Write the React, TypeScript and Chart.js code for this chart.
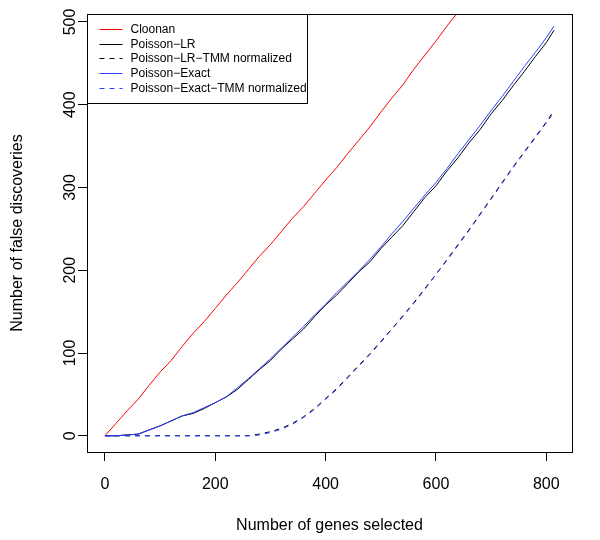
import React, { useEffect, useRef } from "react";
import { Chart, registerables } from "chart.js";

Chart.register(...registerables);

// ---- data ----
const cloonanGenes = [0, 20, 40, 60, 80, 100, 120, 140, 160, 180, 200, 220, 240, 260, 280, 300, 320, 340, 360, 380, 400, 420, 440, 460, 480, 500, 520, 540, 560, 580, 600, 620, 640, 660];
const cloonanFD = [0, 15, 30, 44, 61, 77, 91, 108, 124, 138, 154, 170, 185, 201, 217, 231, 247, 263, 277, 293, 309, 324, 341, 357, 373, 391, 408, 424, 443, 460, 477, 495, 512, 529];

const poissonGenes = [0, 20, 40, 60, 80, 100, 120, 140, 160, 180, 200, 220, 240, 260, 280, 300, 320, 340, 360, 380, 400, 420, 440, 460, 480, 500, 520, 540, 560, 580, 600, 620, 640, 660, 680, 700, 720, 740, 760, 780, 800, 814];
const poissonLR = [0, 0, 1, 2, 7, 12, 18, 24, 27, 33, 40, 47, 56, 68, 80, 91, 105, 117, 129, 144, 158, 170, 184, 198, 210, 226, 240, 254, 271, 288, 302, 320, 336, 354, 370, 389, 405, 423, 440, 458, 475, 490];
const poissonExact = [0, 0, 1, 2, 7, 12, 18, 24, 28, 34, 40, 47, 58, 69, 81, 93, 106, 119, 132, 146, 159, 173, 186, 199, 213, 228, 244, 259, 275, 291, 306, 323, 341, 358, 375, 393, 410, 428, 446, 463, 481, 495];

const tmmGenes = [0, 40, 80, 120, 160, 200, 240, 260, 280, 300, 320, 340, 360, 380, 400, 420, 440, 460, 480, 500, 520, 540, 560, 580, 600, 620, 640, 660, 680, 700, 720, 740, 760, 780, 800, 810];
const poissonLRTMM = [0, 0, 0, 0, 0, 0, 0, 0, 2, 5, 9, 15, 23, 33, 45, 57, 71, 85, 99, 114, 129, 145, 161, 178, 195, 213, 231, 249, 268, 287, 306, 325, 343, 361, 379, 389];
const poissonExactTMM = [0, 0, 0, 0, 0, 0, 0, 0, 1, 4, 8, 14, 22, 32, 44, 56, 70, 84, 98, 113, 129, 144, 160, 177, 195, 212, 230, 248, 267, 286, 305, 324, 342, 360, 378, 387];

const seriesLabels = [
  "Cloonan",
  "Poisson\u2212LR",
  "Poisson\u2212LR\u2212TMM normalized",
  "Poisson\u2212Exact",
  "Poisson\u2212Exact\u2212TMM normalized",
];

const xTicks = [0, 200, 400, 600, 800];
const yTicks = [0, 100, 200, 300, 400, 500];

const FONT = "'Liberation Sans', Arial, Helvetica, sans-serif";
const BLUE = "#2a3cff";

const toXY = (xs: number[], ys: number[]) => xs.map((x, i) => ({ x, y: ys[i] }));

const boxLegendPlugin = {
  id: "boxLegend",
  afterDraw(chart: any) {
    const { ctx, chartArea: a } = chart;
    ctx.save();
    ctx.strokeStyle = "#000";
    ctx.lineWidth = 1;
    ctx.setLineDash([]);
    const L = Math.round(a.left) + 0.5;
    const T = Math.round(a.top) + 0.5;
    const R = Math.round(a.right) + 0.5;
    const B = Math.round(a.bottom) + 0.5;
    ctx.strokeRect(L, T, R - L, B - T);

    // legend
    const lw = 220;
    const lh = 89;
    ctx.fillStyle = "#fff";
    ctx.fillRect(L, T, lw, lh);
    ctx.strokeStyle = "#000";
    ctx.strokeRect(L, T, lw, lh);
    ctx.font = `12px ${FONT}`;
    ctx.textBaseline = "middle";
    ctx.textAlign = "left";
    chart.data.datasets.forEach((ds: any, i: number) => {
      const y = Math.round(T + 14.5 + i * 14.7) + 0.5;
      ctx.beginPath();
      ctx.strokeStyle = ds.borderColor;
      ctx.lineWidth = 1;
      ctx.setLineDash(ds.borderDash || []);
      ctx.moveTo(L + 12, y);
      ctx.lineTo(L + 35, y);
      ctx.stroke();
      ctx.setLineDash([]);
      ctx.fillStyle = "#000";
      ctx.fillText(ds.label, L + 43, y);
    });
    ctx.restore();
  },
};

export default function App() {
  const ref = useRef<HTMLCanvasElement | null>(null);

  useEffect(() => {
    if (!ref.current) return;
    const chart = new Chart(ref.current, {
      type: "line",
      data: {
        datasets: [
          { label: seriesLabels[0], data: toXY(cloonanGenes, cloonanFD), borderColor: "#ff0000", order: 4 },
          { label: seriesLabels[1], data: toXY(poissonGenes, poissonLR), borderColor: "#000000", order: 3 },
          { label: seriesLabels[2], data: toXY(tmmGenes, poissonLRTMM), borderColor: "#000000", borderDash: [5, 5], order: 2 },
          { label: seriesLabels[3], data: toXY(poissonGenes, poissonExact), borderColor: BLUE, order: 1 },
          { label: seriesLabels[4], data: toXY(tmmGenes, poissonExactTMM), borderColor: BLUE, borderDash: [5, 5], order: 0 },
        ].map((d) => ({ ...d, borderWidth: 1, pointRadius: 0, tension: 0, fill: false })),
      },
      options: {
        responsive: false,
        animation: false,
        layout: { padding: { top: 14, right: 28, left: 0, bottom: 0 } },
        plugins: { legend: { display: false }, tooltip: { enabled: false } },
        scales: {
          x: {
            type: "linear",
            min: -32.6,
            max: 846.6,
            afterBuildTicks: (s: any) => {
              s.ticks = xTicks.map((v) => ({ value: v }));
            },
            afterFit: (s: any) => {
              s.height = 88;
            },
            grid: { display: true, drawOnChartArea: false, drawTicks: true, tickLength: 9, color: "#000", lineWidth: 1 },
            border: { display: true, color: "#000", width: 1 },
            ticks: {
              autoSkip: false,
              maxRotation: 0,
              minRotation: 0,
              padding: 14,
              color: "#000",
              font: { family: FONT, size: 16 },
              callback: (v: any) => String(v),
            },
            title: {
              display: true,
              text: "Number of genes selected",
              color: "#000",
              font: { family: FONT, size: 16 },
              padding: { top: 0, bottom: 5 },
            },
          },
          y: {
            type: "linear",
            min: -19.6,
            max: 509.6,
            afterBuildTicks: (s: any) => {
              s.ticks = yTicks.map((v) => ({ value: v }));
            },
            afterFit: (s: any) => {
              s.width = 87;
            },
            grid: { display: true, drawOnChartArea: false, drawTicks: true, tickLength: 9, color: "#000", lineWidth: 1 },
            border: { display: true, color: "#000", width: 1 },
            ticks: {
              autoSkip: false,
              minRotation: 90,
              maxRotation: 90,
              crossAlign: "center",
              padding: -6,
              color: "#000",
              font: { family: FONT, size: 16 },
              callback: (v: any) => String(v),
            },
            title: {
              display: true,
              text: "Number of false discoveries",
              color: "#000",
              font: { family: FONT, size: 16 },
              padding: { top: 8, bottom: 0 },
            },
          },
        },
      },
      plugins: [boxLegendPlugin],
    } as any);
    return () => chart.destroy();
  }, []);

  return (
    <div style={{ position: "absolute", left: 0, top: 0, width: 600, height: 540, background: "#fff" }}>
      <canvas ref={ref} width={600} height={540} style={{ display: "block" }} />
    </div>
  );
}
